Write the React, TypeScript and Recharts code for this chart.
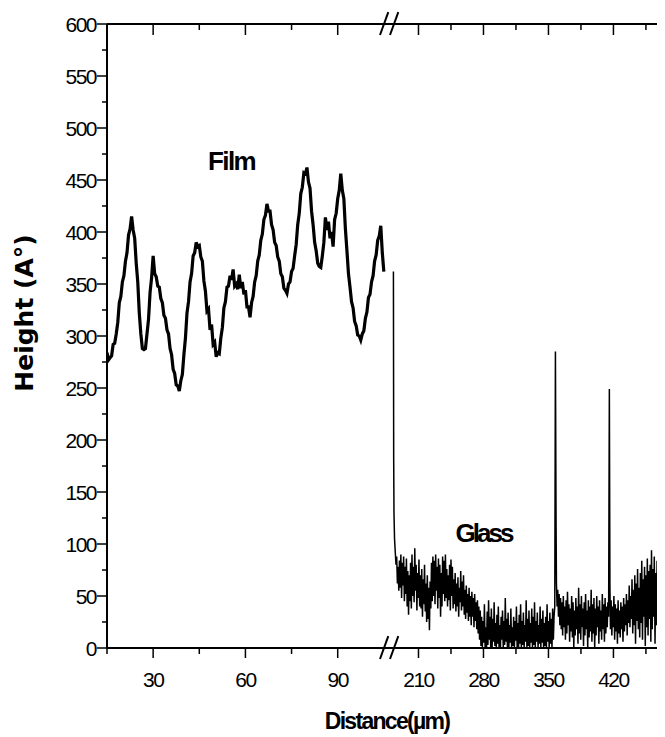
import { LineChart, Line, XAxis, YAxis, ReferenceDot, ReferenceLine } from "recharts";

// profile of the film side, [distance µm, height Å]
const filmProfile: [number, number][] = [
  [15, 284], [15.5, 277], [16, 279], [16.5, 281], [17, 292], [17.5, 293], [18, 302], [18.5, 313],
  [19, 332], [19.5, 338], [20, 352], [20.5, 358], [21, 372], [21.5, 380], [22, 397], [22.5, 403],
  [23, 415], [23.5, 402], [24, 394], [24.5, 370], [25, 352], [25.5, 322], [26, 302], [26.5, 288],
  [27, 287], [27.5, 288], [28, 302], [28.5, 316], [29, 342], [29.5, 356], [30, 377], [30.5, 360],
  [31, 357], [31.5, 348], [32, 347], [32.5, 336], [33, 332], [33.5, 320], [34, 317], [34.5, 306],
  [35, 302], [35.5, 288], [36, 282], [36.5, 268], [37, 264], [37.5, 253], [38, 252], [38.5, 247],
  [39, 257], [39.5, 263], [40, 282], [40.5, 298], [41, 322], [41.5, 333], [42, 352], [42.5, 360],
  [43, 377], [43.5, 380], [44, 390], [44.5, 386], [45, 387], [45.5, 376], [46, 372], [46.5, 353],
  [47, 343], [47.5, 324], [48, 326], [48.5, 306], [49, 311], [49.5, 292], [50, 294], [50.5, 280],
  [51, 284], [51.5, 283], [52, 298], [52.5, 308], [53, 327], [53.5, 333], [54, 347], [54.5, 348],
  [55, 358], [55.5, 354], [56, 364], [56.5, 348], [57, 350], [57.5, 345], [58, 359], [58.5, 346],
  [59, 352], [59.5, 340], [60, 344], [60.5, 328], [61, 328], [61.5, 318], [62, 332], [62.5, 338],
  [63, 352], [63.5, 358], [64, 372], [64.5, 378], [65, 392], [65.5, 398], [66, 412], [66.5, 416],
  [67, 427], [67.5, 420], [68, 420], [68.5, 407], [69, 402], [69.5, 390], [70, 387], [70.5, 376],
  [71, 372], [71.5, 360], [72, 357], [72.5, 346], [73, 344], [73.5, 341], [74, 350], [74.5, 352],
  [75, 362], [75.5, 365], [76, 377], [76.5, 388], [77, 407], [77.5, 418], [78, 437], [78.5, 443],
  [79, 457], [79.5, 456], [80, 462], [80.5, 448], [81, 442], [81.5, 420], [82, 407], [82.5, 390],
  [83, 382], [83.5, 370], [84, 367], [84.5, 366], [85, 377], [85.5, 390], [86, 414], [86.5, 402],
  [87, 410], [87.5, 394], [88, 400], [88.5, 386], [89, 412], [89.5, 418], [90, 432], [90.5, 440],
  [91, 456], [91.5, 440], [92, 432], [92.5, 403], [93, 382], [93.5, 360], [94, 347], [94.5, 333],
  [95, 327], [95.5, 314], [96, 310], [96.5, 301], [97, 300], [97.5, 296], [98, 302], [98.5, 305],
  [99, 317], [99.5, 323], [100, 337], [100.5, 340], [101, 352], [101.5, 358], [102, 372], [102.5, 378],
  [103, 392], [103.5, 396], [104, 406], [104.5, 380], [105, 362],
];

// profile of the glass side
const glassProfile: [number, number][] = [
  [183, 362], [183.3, 180], [183.6, 130], [184.2, 105], [185, 92], [185.8, 80], [186.5, 88], [187.3, 62],
  [188, 78], [188.8, 55], [189.5, 84], [190.3, 58], [191, 90], [191.8, 48], [192.5, 82], [193.3, 60],
  [194, 88], [194.8, 45], [195.5, 78], [196.3, 52], [197, 86], [197.8, 40], [198.5, 74], [199.3, 32],
  [200, 70], [200.8, 45], [201.5, 82], [202.3, 38], [203, 90], [203.8, 50], [204.5, 78], [205.3, 44],
  [206, 96], [206.8, 55], [207.5, 80], [208.3, 36], [209, 72], [209.8, 48], [210.5, 85], [211.3, 40],
  [212, 70], [212.8, 38], [213.5, 76], [214.3, 30], [215, 66], [215.8, 42], [216.5, 80], [217.3, 35],
  [218, 62], [218.8, 25], [219.5, 70], [220.3, 28], [221, 58], [221.8, 17], [222.5, 64], [223.3, 38],
  [224, 82], [224.8, 45], [225.5, 88], [226.3, 50], [227, 84], [227.8, 42], [228.5, 90], [229.3, 55],
  [230, 78], [230.8, 38], [231.5, 86], [232.3, 48], [233, 80], [233.8, 30], [234.5, 72], [235.3, 40],
  [236, 88], [236.8, 52], [237.5, 84], [238.3, 45], [239, 90], [239.8, 48], [240.5, 76], [241.3, 40],
  [242, 70], [242.8, 46], [243.5, 80], [244.3, 36], [245, 85], [245.8, 50], [246.5, 78], [247.3, 38],
  [248, 66], [248.8, 42], [249.5, 72], [250.3, 35], [251, 62], [251.8, 40], [252.5, 68], [253.3, 30],
  [254, 58], [254.8, 44], [255.5, 74], [256.3, 36], [257, 64], [257.8, 40], [258.5, 70], [259.3, 32],
  [260, 56], [260.8, 28], [261.5, 60], [262.3, 34], [263, 52], [263.8, 26], [264.5, 58], [265.3, 30],
  [266, 50], [266.8, 22], [267.5, 54], [268.3, 30], [269, 48], [269.8, 20], [270.5, 52], [271.3, 26],
  [272, 44], [272.8, 18], [273.5, 46], [274.3, 14], [275, 40], [275.8, 8], [276.5, 36], [277.3, 2],
  [278, 30], [278.8, 0], [279.5, 26], [280.3, 5], [281, 42], [281.8, 0], [282.5, 20], [283.3, 0],
  [284, 35], [284.8, 3], [285.5, 46], [286.3, 8], [287, 30], [287.8, 0], [288.5, 38], [289.3, 0],
  [290, 28], [290.8, 6], [291.5, 44], [292.3, 2], [293, 24], [293.8, 0], [294.5, 32], [295.3, 4],
  [296, 40], [296.8, 0], [297.5, 22], [298.3, 0], [299, 30], [299.8, 8], [300.5, 36], [301.3, 0],
  [302, 26], [302.8, 3], [303.5, 48], [304.3, 6], [305, 28], [305.8, 0], [306.5, 34], [307.3, 0],
  [308, 22], [308.8, 5], [309.5, 38], [310.3, 0], [311, 20], [311.8, 2], [312.5, 30], [313.3, 0],
  [314, 26], [314.8, 7], [315.5, 40], [316.3, 0], [317, 24], [317.8, 0], [318.5, 32], [319.3, 4],
  [320, 42], [320.8, 0], [321.5, 26], [322.3, 3], [323, 34], [323.8, 0], [324.5, 22], [325.3, 6],
  [326, 46], [326.8, 0], [327.5, 28], [328.3, 2], [329, 36], [329.8, 0], [330.5, 24], [331.3, 5],
  [332, 38], [332.8, 0], [333.5, 30], [334.3, 3], [335, 44], [335.8, 0], [336.5, 26], [337.3, 6],
  [338, 34], [338.8, 0], [339.5, 22], [340.3, 4], [341, 40], [341.8, 0], [342.5, 28], [343.3, 5],
  [344, 36], [344.8, 0], [345.5, 24], [346.3, 2], [347, 30], [347.8, 0], [348.5, 42], [349.3, 6],
  [350, 26], [350.8, 0], [351.5, 34], [352.3, 4], [353, 28], [353.8, 0], [354.5, 38], [355.3, 8],
  [356, 30], [356.8, 40], [357.5, 285], [358.2, 120], [358.6, 62], [359.3, 40], [360, 56], [360.8, 30],
  [361.5, 52], [362.3, 22], [363, 48], [363.8, 18], [364.5, 44], [365.3, 12], [366, 50], [366.8, 20],
  [367.5, 40], [368.3, 8], [369, 46], [369.8, 14], [370.5, 54], [371.3, 22], [372, 42], [372.8, 6],
  [373.5, 38], [374.3, 16], [375, 50], [375.8, 10], [376.5, 44], [377.3, 0], [378, 36], [378.8, 12],
  [379.5, 48], [380.3, 18], [381, 40], [381.8, 4], [382.5, 58], [383.3, 14], [384, 42], [384.8, 8],
  [385.5, 50], [386.3, 20], [387, 38], [387.8, 2], [388.5, 44], [389.3, 12], [390, 52], [390.8, 18],
  [391.5, 36], [392.3, 0], [393, 46], [393.8, 10], [394.5, 40], [395.3, 16], [396, 56], [396.8, 6],
  [397.5, 42], [398.3, 14], [399, 48], [399.8, 0], [400.5, 38], [401.3, 12], [402, 50], [402.8, 20],
  [403.5, 40], [404.3, 4], [405, 46], [405.8, 16], [406.5, 36], [407.3, 8], [408, 52], [408.8, 18],
  [409.5, 42], [410.3, 6], [411, 48], [411.8, 14], [412.5, 40], [413.3, 20], [414, 44], [414.8, 30],
  [415.6, 249], [416.2, 60], [416.8, 18], [417.5, 46], [418.3, 12], [419, 40], [419.8, 20], [420.5, 50],
  [421.3, 8], [422, 42], [422.8, 16], [423.5, 38], [424.3, 4], [425, 46], [425.8, 14], [426.5, 36],
  [427.3, 10], [428, 44], [428.8, 18], [429.5, 40], [430.3, 6], [431, 48], [431.8, 16], [432.5, 42],
  [433.3, 22], [434, 52], [434.8, 12], [435.5, 46], [436.3, 24], [437, 60], [437.8, 20], [438.5, 50],
  [439.3, 28], [440, 66], [440.8, 14], [441.5, 56], [442.3, 22], [443, 70], [443.8, 4], [444.5, 62],
  [445.3, 26], [446, 76], [446.8, 18], [447.5, 58], [448.3, 10], [449, 72], [449.8, 24], [450.5, 84],
  [451.3, 8], [452, 66], [452.8, 30], [453.5, 78], [454.3, 2], [455, 70], [455.8, 20], [456.5, 86],
  [457.3, 12], [458, 74], [458.8, 28], [459.5, 80], [460.3, 6], [461, 94], [461.8, 18], [462.5, 76],
  [463.3, 30], [464, 88], [464.8, 4], [465.5, 72], [466.3, 22], [467, 84], [467.8, 10], [468.5, 78],
  [469.3, 26], [470, 90], [470.8, 8], [471.5, 70], [472.3, 20], [473, 86], [473.8, 14], [474.5, 80],
  [475.3, 24], [476, 88], [476.8, 10], [477.5, 74], [478.3, 18], [479, 84], [479.8, 22], [480.5, 76],
  [481.3, 12], [482, 70],
];

const xMajorTicks = [30, 60, 90, 210, 280, 350, 420];
const xMinorTicks = [15, 45, 75, 245, 315, 385, 455];
const yMajorTicks = [0, 50, 100, 150, 200, 250, 300, 350, 400, 450, 500, 550, 600];
const yMinorTicks = [25, 75, 125, 175, 225, 275, 325, 375, 425, 475, 525, 575];

// broken x axis: 15..106 on the left, 176..482 squeezed on the right
const FILM_START = 15;
const FILM_END = 106;
const GLASS_START = 176;
const GLASS_END = 482;
const GLASS_SCALE = 0.3018;

function toAxis(x: number) {
  if (x <= FILM_END) return x - FILM_START;
  return FILM_END - FILM_START + (x - GLASS_START) * GLASS_SCALE;
}

const U_MAX = toAxis(GLASS_END);
const BREAK_U = toAxis(FILM_END);

const filmData = filmProfile.map(([x, h]) => ({ u: toAxis(x), h }));
const glassData = glassProfile.map(([x, h]) => ({ u: toAxis(x), h }));
const xTicks = [...xMajorTicks, ...xMinorTicks].map(toAxis);
const yTicks = [...yMajorTicks, ...yMinorTicks];

const font = "'Liberation Sans', Arial, sans-serif";

function XTick(props: any) {
  const { x, y, payload, side } = props;
  const major = xMajorTicks.find((v) => Math.abs(toAxis(v) - payload.value) < 1e-6);
  const len = major !== undefined ? (side === "top" ? 11 : 10) : 6;
  return (
    <g>
      <line x1={x} x2={x} y1={y} y2={y + len} stroke="#000" strokeWidth={1.5} />
      {side === "bottom" && major !== undefined && (
        <text x={x} y={y + 38.5} textAnchor="middle" fontFamily={font} fontSize={21} letterSpacing={-1.5} fill="#000">
          {major}
        </text>
      )}
    </g>
  );
}

function YTick(props: any) {
  const { x, y, payload, side } = props;
  const major = payload.value % 50 === 0;
  const len = major ? (side === "right" ? 11 : 10) : 5;
  return (
    <g>
      <line x1={x} x2={x - len} y1={y} y2={y} stroke="#000" strokeWidth={1.5} />
      {side === "left" && major && (
        <text x={x - 11} y={y + 7.5} textAnchor="end" fontFamily={font} fontSize={21} letterSpacing={-1.5} fill="#000">
          {payload.value}
        </text>
      )}
    </g>
  );
}

function HeightLabel(props: any) {
  const { x, y, height } = props.viewBox;
  const cx = x + 25;
  const cy = y + height / 2 - 23;
  return (
    <text
      x={cx}
      y={cy}
      transform={`rotate(-90 ${cx} ${cy})`}
      textAnchor="middle"
      fontFamily="'DejaVu Sans', sans-serif"
      fontWeight="bold"
      fontSize={25}
      fill="#000"
    >
      Height (A°)
    </text>
  );
}

function DistanceLabel(props: any) {
  const { x, y, width, height } = props.viewBox;
  return (
    <text
      x={x + width / 2 - 2}
      y={y + height - 4}
      textAnchor="middle"
      fontFamily={font}
      fontWeight="bold"
      fontSize={23}
      letterSpacing={-1.7}
      fill="#000"
    >
      Distance(µm)
    </text>
  );
}

function NoteLabel(props: any) {
  const { viewBox, text, size, spacing } = props;
  const cx = viewBox.x + viewBox.width / 2;
  const cy = viewBox.y + viewBox.height / 2;
  return (
    <text
      x={cx}
      y={cy + size * 0.36}
      textAnchor="middle"
      fontFamily={font}
      fontWeight="bold"
      fontSize={size}
      letterSpacing={spacing}
      fill="#000"
    >
      {text}
    </text>
  );
}

// the "//" marks, offsets around the break in axis units
const breakSlashes = [
  [-2.25, 0.45],
  [1.0, 3.7],
];

export default function App() {
  return (
    <div style={{ width: 657, height: 729, overflow: "hidden" }}>
      <LineChart width={664} height={729} margin={{ top: 15, right: 0, bottom: 4, left: 0 }}>
        <XAxis
          xAxisId="b"
          type="number"
          dataKey="u"
          domain={[0, U_MAX]}
          allowDataOverflow
          ticks={xTicks}
          interval={0}
          tickSize={0}
          tickMargin={0}
          tickLine={false}
          tick={(p: any) => <XTick {...p} side="bottom" />}
          axisLine={{ stroke: "#000", strokeWidth: 2 }}
          height={85}
          label={<DistanceLabel />}
        />
        <XAxis
          xAxisId="t"
          orientation="top"
          type="number"
          dataKey="u"
          domain={[0, U_MAX]}
          allowDataOverflow
          ticks={xTicks}
          interval={0}
          tickSize={0}
          tickMargin={0}
          tickLine={false}
          tick={(p: any) => <XTick {...p} side="top" />}
          axisLine={{ stroke: "#000", strokeWidth: 2 }}
          height={1}
        />
        <YAxis
          yAxisId="l"
          type="number"
          domain={[0, 600]}
          allowDataOverflow
          ticks={yTicks}
          interval={0}
          tickSize={0}
          tickMargin={0}
          tickLine={false}
          tick={(p: any) => <YTick {...p} side="left" />}
          axisLine={{ stroke: "#000", strokeWidth: 2 }}
          width={99}
          label={<HeightLabel />}
        />
        <YAxis
          yAxisId="r"
          orientation="right"
          type="number"
          domain={[0, 600]}
          allowDataOverflow
          ticks={yTicks}
          interval={0}
          tickSize={0}
          tickMargin={0}
          tickLine={false}
          tick={(p: any) => <YTick {...p} side="right" />}
          axisLine={{ stroke: "#000", strokeWidth: 2 }}
          width={1}
        />
        <Line
          xAxisId="b"
          yAxisId="l"
          data={filmData}
          dataKey="h"
          type="linear"
          stroke="#000"
          strokeWidth={3.2}
          strokeLinejoin="miter"
          dot={false}
          isAnimationActive={false}
        />
        <Line
          xAxisId="b"
          yAxisId="l"
          data={glassData}
          dataKey="h"
          type="linear"
          stroke="#000"
          strokeWidth={1.5}
          dot={false}
          isAnimationActive={false}
        />
        <ReferenceDot
          xAxisId="b"
          yAxisId="l"
          x={toAxis(55.5)}
          y={469}
          r={1}
          fill="none"
          stroke="none"
          label={<NoteLabel text="Film" size={26} spacing={-1.6} />}
        />
        <ReferenceDot
          xAxisId="b"
          yAxisId="l"
          x={toAxis(280)}
          y={110.6}
          r={1}
          fill="none"
          stroke="none"
          label={<NoteLabel text="Glass" size={26} spacing={-3} />}
        />
        {breakSlashes.map(([a, b], i) => (
          <ReferenceLine
            key={`b${i}`}
            xAxisId="b"
            yAxisId="l"
            ifOverflow="visible"
            stroke="#000"
            strokeWidth={2}
            segment={[
              { x: BREAK_U + a, y: -10.6 },
              { x: BREAK_U + b, y: 11.5 },
            ]}
          />
        ))}
        {breakSlashes.map(([a, b], i) => (
          <ReferenceLine
            key={`t${i}`}
            xAxisId="b"
            yAxisId="l"
            ifOverflow="visible"
            stroke="#000"
            strokeWidth={2}
            segment={[
              { x: BREAK_U + a, y: 589.4 },
              { x: BREAK_U + b, y: 611.5 },
            ]}
          />
        ))}
      </LineChart>
    </div>
  );
}
